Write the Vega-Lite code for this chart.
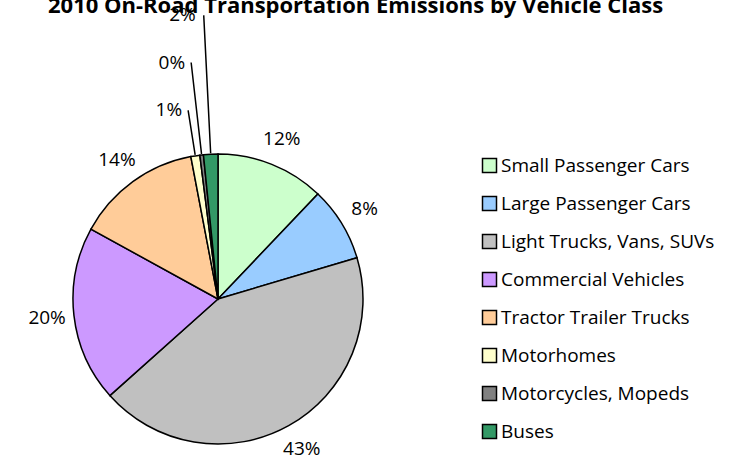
{
  "$schema": "https://vega.github.io/schema/vega-lite/v6.json",
  "width": 754,
  "height": 461,
  "autosize": {"type": "none"},
  "padding": 0,
  "background": "white",
  "title": {
    "text": "2010 On-Road Transportation Emissions by Vehicle Class",
    "anchor": "start",
    "frame": "group",
    "dx": 48,
    "offset": -35,
    "baseline": "alphabetic",
    "font": "Open Sans",
    "fontSize": 22,
    "fontWeight": "bold",
    "color": "black"
  },
  "config": {"view": {"stroke": null}},
  "data": {
    "values": [
      {"category": "Small Passenger Cars", "share": 0.121, "order": 1},
      {"category": "Large Passenger Cars", "share": 0.083, "order": 2},
      {"category": "Light Trucks, Vans, SUVs", "share": 0.430, "order": 3},
      {"category": "Commercial Vehicles", "share": 0.196, "order": 4},
      {"category": "Tractor Trailer Trucks", "share": 0.140, "order": 5},
      {"category": "Motorhomes", "share": 0.010, "order": 6},
      {"category": "Motorcycles, Mopeds", "share": 0.004, "order": 7},
      {"category": "Buses", "share": 0.016, "order": 8}
    ]
  },
  "encoding": {
    "theta": {"field": "share", "type": "quantitative", "stack": true},
    "order": {"field": "order", "type": "quantitative"},
    "detail": {"field": "category", "type": "nominal"}
  },
  "layer": [
    {
      "mark": {"type": "arc", "x": 218, "y": 299, "radius": 145, "stroke": "black", "strokeWidth": 1.5},
      "encoding": {
        "color": {
          "field": "category",
          "type": "nominal",
          "scale": {
            "domain": ["Small Passenger Cars", "Large Passenger Cars", "Light Trucks, Vans, SUVs", "Commercial Vehicles", "Tractor Trailer Trucks", "Motorhomes", "Motorcycles, Mopeds", "Buses"],
            "range": ["#CCFFCC", "#99CCFF", "#C0C0C0", "#CC99FF", "#FFCC99", "#FFFFCC", "#808080", "#339966"]
          },
          "legend": {
            "title": null,
            "orient": "none",
            "legendX": 480,
            "legendY": 156,
            "padding": 0,
            "symbolType": "square",
            "symbolSize": 196,
            "symbolStrokeColor": "black",
            "symbolStrokeWidth": 1.5,
            "labelFont": "Open Sans",
            "labelFontSize": 19,
            "labelColor": "black",
            "labelOffset": 2,
            "rowPadding": 17,
            "labelLimit": 300
          }
        }
      }
    },
    {
      "mark": {"type": "text", "x": 218, "y": 299, "radius": 172, "font": "Open Sans", "fontSize": 19, "color": "black", "align": "center", "baseline": "middle"},
      "encoding": {
        "text": {"condition": {"test": "datum.order >= 6", "value": ""}, "field": "share", "type": "quantitative", "format": ".0%"}
      }
    },
    {
      "mark": {"type": "arc", "x": 218, "y": 299, "radius": 284, "radius2": 146, "padAngle": 0.3, "fillOpacity": 0, "stroke": "black", "strokeWidth": 1.5},
      "encoding": {
        "strokeOpacity": {"condition": {"test": "datum.category === 'Buses'", "value": 1}, "value": 0}
      }
    },
    {
      "mark": {"type": "arc", "x": 218, "y": 299, "radius": 238, "radius2": 146, "padAngle": 0.3, "fillOpacity": 0, "stroke": "black", "strokeWidth": 1.5},
      "encoding": {
        "strokeOpacity": {"condition": {"test": "datum.category === 'Motorcycles, Mopeds'", "value": 1}, "value": 0}
      }
    },
    {
      "mark": {"type": "arc", "x": 218, "y": 299, "radius": 191, "radius2": 146, "padAngle": 0.3, "fillOpacity": 0, "stroke": "black", "strokeWidth": 1.5},
      "encoding": {
        "strokeOpacity": {"condition": {"test": "datum.category === 'Motorhomes'", "value": 1}, "value": 0}
      }
    },
    {
      "mark": {"type": "text", "x": 218, "y": 299, "radius": 284, "font": "Open Sans", "fontSize": 19, "color": "black", "align": "right", "baseline": "middle", "dx": -8},
      "encoding": {
        "text": {"condition": {"test": "datum.category !== 'Buses'", "value": ""}, "field": "share", "type": "quantitative", "format": ".0%"}
      }
    },
    {
      "mark": {"type": "text", "x": 218, "y": 299, "radius": 238, "font": "Open Sans", "fontSize": 19, "color": "black", "align": "right", "baseline": "middle", "dx": -6},
      "encoding": {
        "text": {"condition": {"test": "datum.category !== 'Motorcycles, Mopeds'", "value": ""}, "field": "share", "type": "quantitative", "format": ".0%"}
      }
    },
    {
      "mark": {"type": "text", "x": 218, "y": 299, "radius": 191, "font": "Open Sans", "fontSize": 19, "color": "black", "align": "right", "baseline": "middle", "dx": -6},
      "encoding": {
        "text": {"condition": {"test": "datum.category !== 'Motorhomes'", "value": ""}, "field": "share", "type": "quantitative", "format": ".0%"}
      }
    }
  ]
}
